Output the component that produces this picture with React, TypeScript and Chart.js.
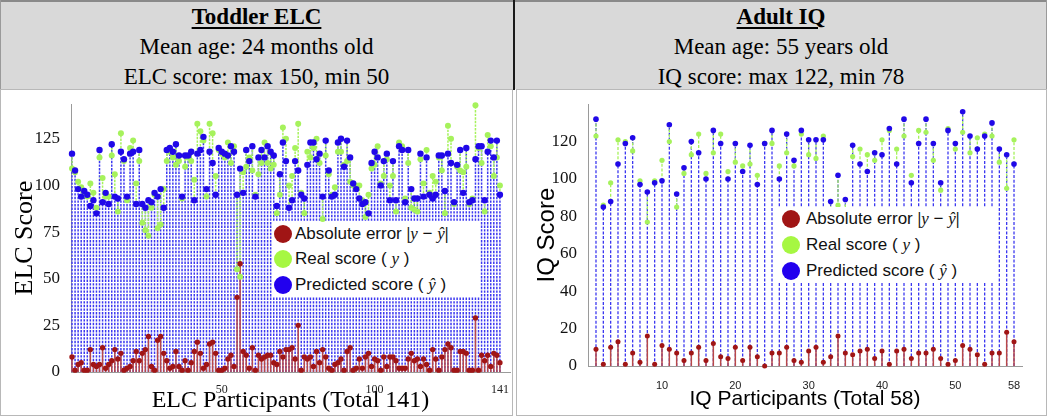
import React, { useEffect, useRef } from "react";
import { Chart, registerables } from "chart.js";

Chart.register(...registerables);

const SERIF = "'Liberation Serif', 'Times New Roman', serif";
const SANS = "'Liberation Sans', Arial, sans-serif";

// ---------- Toddler ELC (141 participants) ----------
const ELC_PREDICTED = [
  117, 108, 98, 94, 97, 95, 89, 92, 85, 119,
  91, 96, 90, 122, 94, 93, 118, 114, 94, 117,
  118, 90, 119, 90, 88, 92, 91, 96, 94, 98,
  88, 119, 120, 118, 122, 116, 94, 116, 116, 118,
  92, 117, 119, 126, 98, 118, 112, 95, 120, 118,
  117, 116, 121, 118, 95, 109, 96, 119, 113, 121,
  94, 115, 119, 115, 121, 118, 116, 89, 106, 123,
  113, 88, 92, 113, 108, 95, 93, 111, 123, 123,
  114, 117, 94, 124, 108, 94, 95, 123, 125, 110,
  124, 115, 101, 98, 93, 90, 91, 85, 112, 118,
  115, 100, 113, 117, 92, 113, 92, 121, 119, 91,
  119, 98, 93, 93, 117, 94, 115, 95, 93, 95,
  116, 116, 97, 117, 112, 91, 111, 119, 96, 120,
  91, 92, 114, 121, 121, 92, 118, 124, 115, 124, 95,
];
const ELC_REAL = [
  109, 107, 102, 99, 96, 94, 101, 96, 88, 115,
  104, 94, 94, 116, 106, 86, 128, 113, 92, 120,
  124, 101, 113, 80, 76, 73, 88, 95, 77, 79,
  98, 113, 118, 115, 111, 113, 93, 110, 115, 113,
  103, 133, 129, 124, 94, 133, 128, 105, 119, 117,
  115, 123, 112, 121, 55, 51, 107, 110, 115, 108,
  95, 106, 112, 123, 112, 109, 111, 85, 95, 131,
  125, 100, 105, 120, 133, 96, 85, 118, 115, 120,
  125, 112, 82, 116, 106, 95, 99, 118, 118, 111,
  113, 102, 100, 100, 100, 92, 83, 95, 109, 111,
  121, 101, 105, 114, 100, 105, 86, 123, 121, 93,
  112, 88, 87, 86, 114, 101, 119, 96, 105, 102,
  115, 108, 85, 132, 125, 90, 110, 108, 107, 110,
  90, 93, 143, 120, 112, 86, 127, 121, 105, 115, 100,
];
const ELC_X_TICKS = [50, 100, 141];
const ELC_Y_TICKS = [0, 25, 50, 75, 100, 125];

// ---------- Adult IQ (58 participants) ----------
const IQ_PREDICTED = [
  132, 85, 88, 108, 119, 122, 97, 93, 98, 99,
  129, 92, 106, 120, 114, 100, 126, 119, 100, 119,
  104, 118, 97, 119, 126, 100, 124, 110, 126,
  121, 121, 121, 88, 102, 89, 118, 108, 104, 114,
  113, 127, 108, 132, 98, 119, 132, 119, 98, 126,
  119, 136, 123, 116, 123, 130, 116, 113, 108,
];
const IQ_REAL = [
  123, 86, 98, 121, 120, 115, 99, 77, 99, 110,
  120, 85, 103, 113, 124, 103, 114, 124, 104, 109,
  107, 108, 102, 119, 119, 107, 114, 107, 124,
  113, 111, 123, 83, 86, 82, 112, 116, 113, 110,
  121, 126, 116, 123, 102, 126, 125, 110, 94, 127,
  116, 125, 114, 122, 124, 123, 109, 95, 121,
];
const IQ_X_TICKS = [10, 20, 30, 40, 50, 58];
const IQ_Y_TICKS = [0, 20, 40, 60, 80, 100, 120];

const BLUE_DOT = "#2008e8";
const BLUE_STEM = "#3c38f0";
const GREEN = "#a6f25c";
const RED_DOT = "#a01515";
const RED_STEM = "#b84848";

type Pt = { x: number; y: number | null };

interface Spec {
  pred: number[];
  real: number[];
  left: number;
  top: number;
  width: number;
  height: number;
  padding: { left: number; top: number; right: number; bottom: number };
  yWidth: number;
  xHeight: number;
  xMin: number;
  xMax: number;
  yMax: number;
  xTicks: number[];
  yTicks: number[];
  xTickFont: { family: string; size: number };
  yTickFont: { family: string; size: number };
  xTickPad: number;
  yTickPad: number;
  xTitle: string;
  yTitle: string;
  xTitleFont: { family: string; size: number };
  yTitleFont: { family: string; size: number };
  xTitlePad: number;
  yTitlePad: number;
  stemWidth: number;
  dash: number[];
  rBlue: number;
  rGreen: number;
  rRed: number;
  redStemWidth: number;
}

function StemChart({ spec }: { spec: Spec }) {
  const ref = useRef<HTMLCanvasElement>(null);
  useEffect(() => {
    const s = spec;
    const err = s.real.map((r, i) => Math.abs(r - s.pred[i]));
    const blueStem: Pt[] = [];
    const greenStem: Pt[] = [];
    const redStem: Pt[] = [];
    const predPts: Pt[] = [];
    const realPts: Pt[] = [];
    const errPts: Pt[] = [];
    s.pred.forEach((p, i) => {
      const x = i + 1;
      blueStem.push({ x, y: 0 }, { x, y: p }, { x, y: null });
      greenStem.push({ x, y: p }, { x, y: s.real[i] }, { x, y: null });
      redStem.push({ x, y: 0 }, { x, y: err[i] }, { x, y: null });
      predPts.push({ x, y: p });
      realPts.push({ x, y: s.real[i] });
      errPts.push({ x, y: err[i] });
    });
    const chart = new Chart(ref.current as HTMLCanvasElement, {
      type: "line",
      data: {
        datasets: [
          {
            data: blueStem as any,
            borderColor: BLUE_STEM,
            borderWidth: s.stemWidth,
            borderDash: s.dash,
            pointRadius: 0,
            spanGaps: false,
            order: 6,
          },
          {
            data: greenStem as any,
            borderColor: GREEN,
            borderWidth: s.stemWidth,
            borderDash: s.dash,
            pointRadius: 0,
            spanGaps: false,
            order: 5,
          },
          {
            data: redStem as any,
            borderColor: RED_STEM,
            borderWidth: s.redStemWidth,
            pointRadius: 0,
            spanGaps: false,
            order: 4,
          },
          {
            data: realPts as any,
            showLine: false,
            pointRadius: s.rGreen,
            pointBackgroundColor: GREEN,
            pointBorderWidth: 0,
            clip: false,
            order: 3,
          },
          {
            data: predPts as any,
            showLine: false,
            pointRadius: s.rBlue,
            pointBackgroundColor: BLUE_DOT,
            pointBorderWidth: 0,
            clip: false,
            order: 2,
          },
          {
            data: errPts as any,
            showLine: false,
            pointRadius: s.rRed,
            pointBackgroundColor: RED_DOT,
            pointBorderWidth: 0,
            clip: false,
            order: 1,
          },
        ],
      },
      options: {
        animation: false,
        responsive: false,
        devicePixelRatio: 1,
        events: [],
        layout: { padding: s.padding, autoPadding: false } as any,
        plugins: { legend: { display: false }, tooltip: { enabled: false } },
        scales: {
          x: {
            type: "linear",
            min: s.xMin,
            max: s.xMax,
            afterBuildTicks: (sc: any) => {
              sc.ticks = s.xTicks.map((v) => ({ value: v }));
            },
            afterFit: (sc: any) => {
              sc.height = s.xHeight;
            },
            grid: { display: false },
            border: { display: true, color: "#9a9a9a", width: 1 },
            ticks: {
              autoSkip: false,
              maxRotation: 0,
              font: s.xTickFont,
              color: "#222",
              padding: s.xTickPad,
              callback: (v: any) => String(v),
            },
            title: {
              display: true,
              text: s.xTitle,
              color: "#000",
              font: { ...s.xTitleFont, lineHeight: 1 },
              padding: { top: 0, bottom: s.xTitlePad },
            },
          },
          y: {
            type: "linear",
            min: 0,
            max: s.yMax,
            afterBuildTicks: (sc: any) => {
              sc.ticks = s.yTicks.map((v) => ({ value: v }));
            },
            afterFit: (sc: any) => {
              sc.width = s.yWidth;
            },
            grid: { display: false },
            border: { display: true, color: "#9a9a9a", width: 1 },
            ticks: {
              autoSkip: false,
              font: s.yTickFont,
              color: "#111",
              padding: s.yTickPad,
              callback: (v: any) => String(v),
            },
            title: {
              display: true,
              text: s.yTitle,
              color: "#000",
              font: { ...s.yTitleFont, lineHeight: 1 },
              padding: { top: s.yTitlePad, bottom: 0 },
            },
          },
        },
      } as any,
    });
    return () => chart.destroy();
  }, [spec]);
  return (
    <canvas
      ref={ref}
      width={spec.width}
      height={spec.height}
      style={{
        position: "absolute",
        left: spec.left,
        top: spec.top,
        width: spec.width,
        height: spec.height,
      }}
    />
  );
}

const ELC_SPEC: Spec = {
  pred: ELC_PREDICTED,
  real: ELC_REAL,
  left: 1,
  top: 91,
  width: 511,
  height: 323,
  padding: { left: 0, top: 2, right: 2, bottom: 0 },
  yWidth: 70,
  xHeight: 42,
  xMin: 0.67,
  xMax: 144.3,
  yMax: 143.5,
  xTicks: ELC_X_TICKS,
  yTicks: ELC_Y_TICKS,
  xTickFont: { family: SERIF, size: 12 },
  yTickFont: { family: SERIF, size: 17 },
  xTickPad: 3,
  yTickPad: 3,
  xTitle: "ELC Participants (Total 141)",
  yTitle: "ELC Score",
  xTitleFont: { family: SERIF, size: 24 },
  yTitleFont: { family: SERIF, size: 26 },
  xTitlePad: 1,
  yTitlePad: 11,
  stemWidth: 1.5,
  dash: [2.4, 1.2],
  rBlue: 3.2,
  rGreen: 3,
  rRed: 2.7,
  redStemWidth: 1.5,
};

const IQ_SPEC: Spec = {
  pred: IQ_PREDICTED,
  real: IQ_REAL,
  left: 517,
  top: 91,
  width: 529,
  height: 323,
  padding: { left: 0, top: 4, right: 24, bottom: 0 },
  yWidth: 71,
  xHeight: 48,
  xMin: -0.09,
  xMax: 59.09,
  yMax: 140,
  xTicks: IQ_X_TICKS,
  yTicks: IQ_Y_TICKS,
  xTickFont: { family: SANS, size: 11 },
  yTickFont: { family: SERIF, size: 17 },
  xTickPad: 5,
  yTickPad: 3,
  xTitle: "IQ Participants (Total 58)",
  yTitle: "IQ Score",
  xTitleFont: { family: SANS, size: 21 },
  yTitleFont: { family: SANS, size: 24 },
  xTitlePad: 4.5,
  yTitlePad: 18,
  stemWidth: 1.3,
  dash: [3, 1.7],
  rBlue: 2.8,
  rGreen: 2.6,
  rRed: 2.5,
  redStemWidth: 1.5,
};

const yi = (
  <span style={{ fontFamily: SERIF, fontStyle: "italic" }}>y</span>
);
const yhat = (
  <span style={{ fontFamily: SERIF, fontStyle: "italic" }}>ŷ</span>
);
const bar = <b style={{ fontFamily: SERIF }}>|</b>;

function Legend({
  left,
  top,
  width,
  height,
  cx,
  tx,
  rows,
}: {
  left: number;
  top: number;
  width: number;
  height: number;
  cx: number;
  tx: number;
  rows: number[];
}) {
  const items = [
    { color: RED_DOT, label: <>Absolute error {bar}{yi} − {yhat}{bar}</> },
    { color: "#a6f742", label: <>Real score ( {yi} )</> },
    { color: "#2200ee", label: <>Predicted score ( {yhat} )</> },
  ];
  return (
    <div
      style={{
        position: "absolute",
        left,
        top,
        width,
        height,
        background: "#fff",
        fontFamily: SANS,
        fontSize: 17,
        color: "#111",
      }}
    >
      {items.map((it, i) => (
        <React.Fragment key={i}>
          <div
            style={{
              position: "absolute",
              left: cx - 9,
              top: rows[i] - 9,
              width: 18,
              height: 18,
              borderRadius: 9,
              background: it.color,
            }}
          />
          <div
            style={{
              position: "absolute",
              left: tx,
              top: rows[i] - 11,
              height: 22,
              lineHeight: "22px",
              whiteSpace: "nowrap",
            }}
          >
            {it.label}
          </div>
        </React.Fragment>
      ))}
    </div>
  );
}

function Header({
  left,
  width,
  title,
  l2,
  l3,
}: {
  left: number;
  width: number;
  title: string;
  l2: string;
  l3: string;
}) {
  return (
    <div
      style={{
        position: "absolute",
        left,
        top: 0,
        width,
        height: 89,
        background: "#d9d9d9",
        borderTop: "2px solid #8a8a8a",
        boxSizing: "border-box",
        fontFamily: SERIF,
        fontSize: 23,
        lineHeight: "30px",
        textAlign: "center",
        color: "#000",
        paddingTop: 0,
      }}
    >
      <div
        style={{
          fontWeight: "bold",
          textDecoration: "underline",
          textDecorationThickness: "2px",
          textUnderlineOffset: "3px",
        }}
      >
        {title}
      </div>
      <div>{l2}</div>
      <div>{l3}</div>
    </div>
  );
}

export default function App() {
  return (
    <div
      style={{
        position: "absolute",
        left: 0,
        top: 0,
        width: 1050,
        height: 419,
        background: "#fff",
        overflow: "hidden",
      }}
    >
      <Header
        left={0}
        width={513}
        title="Toddler ELC"
        l2="Mean age: 24 months old"
        l3="ELC score: max 150, min 50"
      />
      <Header
        left={515}
        width={532}
        title="Adult IQ"
        l2="Mean age: 55 years old"
        l3="IQ score: max 122, min 78"
      />
      <div style={{ position: "absolute", left: 0, top: 0, width: 1, height: 90, background: "#9a9a9a" }} />
      <div style={{ position: "absolute", left: 513, top: 0, width: 2, height: 90, background: "#1a1a1a" }} />
      <div style={{ position: "absolute", left: 1046, top: 0, width: 1, height: 90, background: "#9a9a9a" }} />
      <div
        style={{
          position: "absolute",
          left: 0,
          top: 89,
          width: 513,
          height: 327,
          border: "1px solid #b8b8b8",
          boxSizing: "border-box",
        }}
      />
      <div
        style={{
          position: "absolute",
          left: 516,
          top: 89,
          width: 531,
          height: 327,
          border: "1px solid #b8b8b8",
          boxSizing: "border-box",
        }}
      />
      <StemChart spec={ELC_SPEC} />
      <StemChart spec={IQ_SPEC} />
      <Legend left={272} top={222} width={208} height={75} cx={11} tx={23} rows={[12, 37, 63]} />
      <Legend left={778} top={207} width={219} height={75} cx={13} tx={28} rows={[12, 38, 64]} />
    </div>
  );
}
